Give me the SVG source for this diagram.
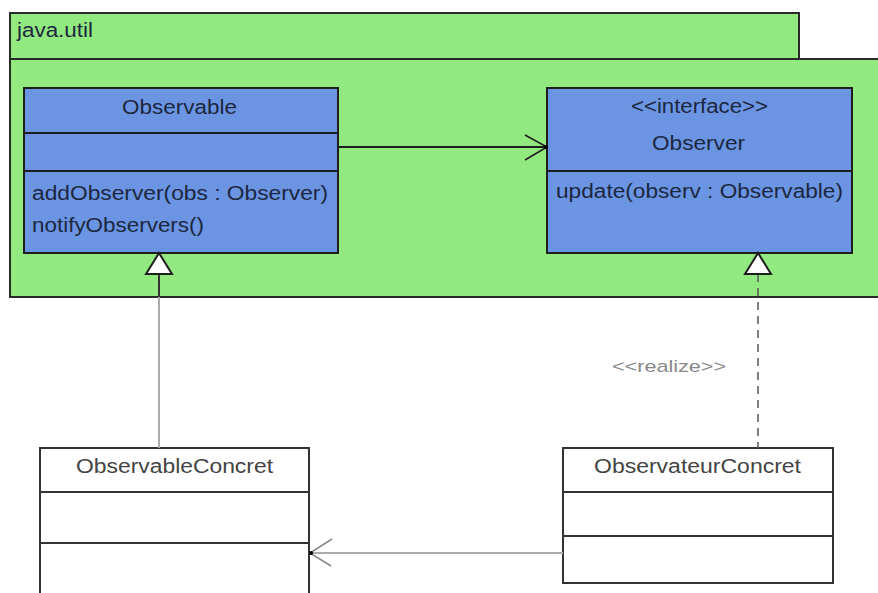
<svg xmlns="http://www.w3.org/2000/svg" width="878" height="593" viewBox="0 0 878 593">
<style>
  text { font-family: "Liberation Sans", Arial, sans-serif; font-size: 20px; }
  .pkg { fill: #92e97f; stroke: #2a2a2a; stroke-width: 2; }
  .cls { fill: #6b95e3; stroke: #1e1e1e; stroke-width: 2; }
  .div { stroke: #1e1e1e; stroke-width: 2; }
  .ccls { fill: #ffffff; stroke: #333333; stroke-width: 2; }
  .cdiv { stroke: #333333; stroke-width: 2; }
  .bt { fill: #1c2740; }
  .gt { fill: #444444; }
  .lbl { fill: #888888; font-size: 17px; }
</style>
<rect width="878" height="593" fill="#ffffff"/>
<g id="package-java-util">
  <rect class="pkg" x="10" y="13" width="789" height="46"/>
  <rect class="pkg" x="10" y="59" width="880" height="238"/>
  <text class="bt" x="17" y="37" textLength="76" lengthAdjust="spacingAndGlyphs">java.util</text>
</g>
<g id="Observable">
  <rect class="cls" x="24" y="88" width="314" height="165"/>
  <line class="div" x1="24" y1="133" x2="338" y2="133"/>
  <line class="div" x1="24" y1="171" x2="338" y2="171"/>
  <text class="bt" x="122" y="114" textLength="115" lengthAdjust="spacingAndGlyphs">Observable</text>
  <text class="bt" x="32" y="200" textLength="296" lengthAdjust="spacingAndGlyphs">addObserver(obs : Observer)</text>
  <text class="bt" x="32" y="232" textLength="172" lengthAdjust="spacingAndGlyphs">notifyObservers()</text>
</g>
<g id="Observer">
  <rect class="cls" x="547" y="88" width="305" height="165"/>
  <line class="div" x1="547" y1="171" x2="852" y2="171"/>
  <text class="bt" x="631" y="113" textLength="137" lengthAdjust="spacingAndGlyphs">&lt;&lt;interface&gt;&gt;</text>
  <text class="bt" x="652" y="150" textLength="93" lengthAdjust="spacingAndGlyphs">Observer</text>
  <text class="bt" x="556" y="198" textLength="287" lengthAdjust="spacingAndGlyphs">update(observ : Observable)</text>
</g>
<g id="ObservableConcret">
  <rect class="ccls" x="40" y="448" width="269" height="160"/>
  <line class="cdiv" x1="40" y1="492" x2="309" y2="492"/>
  <line class="cdiv" x1="40" y1="543" x2="309" y2="543"/>
  <text class="gt" x="76" y="473" textLength="197" lengthAdjust="spacingAndGlyphs">ObservableConcret</text>
</g>
<g id="ObservateurConcret">
  <rect class="ccls" x="563" y="448" width="270" height="135"/>
  <line class="cdiv" x1="563" y1="492" x2="833" y2="492"/>
  <line class="cdiv" x1="563" y1="536" x2="833" y2="536"/>
  <text class="gt" x="594" y="473" textLength="207" lengthAdjust="spacingAndGlyphs">ObservateurConcret</text>
</g>
<g id="connectors" fill="none">
  <line x1="338" y1="147" x2="547" y2="147" stroke="#1e1e1e" stroke-width="2"/>
  <polyline points="525,135 547,147 525,160" stroke="#1e1e1e" stroke-width="1.5"/>
  <circle cx="546" cy="147" r="2" fill="#000"/>
  <line x1="159" y1="274" x2="159" y2="297" stroke="#333" stroke-width="2"/>
  <line x1="159" y1="297" x2="159" y2="448" stroke="#aaaaaa" stroke-width="2"/>
  <polygon points="159,253 146,274 172,274" fill="#ffffff" stroke="#1e1e1e" stroke-width="2"/>
  <line x1="758" y1="274" x2="758" y2="448" stroke="#555" stroke-width="1.5" stroke-dasharray="8,6"/>
  <polygon points="758,253 745,274 771,274" fill="#ffffff" stroke="#1e1e1e" stroke-width="2"/>
  <text class="lbl" x="612" y="372" textLength="114" lengthAdjust="spacingAndGlyphs" stroke="none">&lt;&lt;realize&gt;&gt;</text>
  <line x1="563" y1="553" x2="310" y2="553" stroke="#aaaaaa" stroke-width="2"/>
  <polyline points="332,539 310,553 331,566" stroke="#888" stroke-width="1.5"/>
  <circle cx="311" cy="553" r="2" fill="#000"/>
</g>
</svg>
